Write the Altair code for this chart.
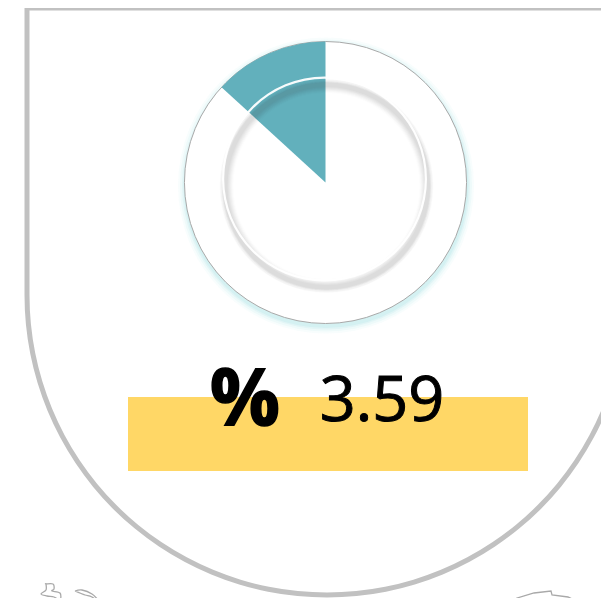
import math
import altair as alt
import pandas as pd

# page-pixel style coordinate system of the drawing
X_DOMAIN = [8, 601]
Y_DOMAIN = [8, 598]
W, H = 593, 590

FRAME_COLOR = "#c1c1c1"
LINE_GREY = "#a9a9a9"
WEDGE_COLOR = "#62b0bc"
BAR_COLOR = "#ffd766"

VALUE_TEXT = "3.59"
PCT_TEXT = "%"
SHARE = 0.132  # share of the dial that is filled

DIAL_X, DIAL_Y, DIAL_R = 325.5, 182.5, 141

frame_top_x = [25, 601]
frame_top_y = [8, 8]
frame_left_x = [27, 27]
frame_left_y = [8, 295]
frame_arc = dict(x=327, y=295, r=300)

bar_x = [128, 528]
bar_y = [397, 471]

star_x = [46, 53, 54, 52, 60, 60, 54, 47, 41, 46]
star_y = [584, 584, 589, 591, 593, 600, 597, 596, 594, 590]
crescent_x = [75, 82, 92, 100, 103, 92, 85, 75]
crescent_y = [591, 590, 594, 602, 606, 597, 595, 591]
big_arc_x = [503, 517, 534, 551, 552, 568, 587]
big_arc_y = [606, 598, 593, 591, 595, 597, 606]

sx = alt.Scale(domain=X_DOMAIN, range=[0, W])
sy = alt.Scale(domain=Y_DOMAIN, range=[0, H])


def xy(df):
    return dict(
        x=alt.X("x:Q", scale=sx, axis=None),
        y=alt.Y("y:Q", scale=sy, axis=None),
    )


def arc(cx, cy, r, r0=0.0, t0=0.0, t1=2 * math.pi, **kw):
    df = pd.DataFrame({"x": [cx], "y": [cy]})
    return alt.Chart(df).mark_arc(
        radius=r, radius2=r0, theta=t0, theta2=t1, clip=True, **kw
    ).encode(**xy(df))


def path(xs, ys, **kw):
    df = pd.DataFrame({"x": xs, "y": ys, "o": range(len(xs))})
    return alt.Chart(df).mark_line(clip=True, **kw).encode(
        order="o:Q", **xy(df)
    )


layers = []

# frame
layers.append(path(frame_top_x, frame_top_y, color=FRAME_COLOR, strokeWidth=5))
layers.append(path(frame_left_x, frame_left_y, color=FRAME_COLOR, strokeWidth=5))
layers.append(arc(frame_arc["x"], frame_arc["y"], frame_arc["r"] + 2.5,
                  frame_arc["r"] - 2.5, math.pi / 2, 3 * math.pi / 2,
                  color=FRAME_COLOR))

# cyan glow below the dial
for dr, op in [(7, 0.07), (5, 0.10), (3, 0.15), (1.5, 0.20)]:
    layers.append(arc(326, 185.5, DIAL_R + dr, color="#9fdfe6", opacity=op))

# dial disc
layers.append(arc(DIAL_X, DIAL_Y, DIAL_R, color="#ffffff",
                  stroke=LINE_GREY, strokeWidth=1))

# wedge
layers.append(arc(DIAL_X, DIAL_Y, DIAL_R, 0.0,
                  2 * math.pi * (1 - SHARE), 2 * math.pi, color=WEDGE_COLOR))

# inner soft grey ring
for r_out, r_in, op in [(107, 93, 0.012), (106.5, 94, 0.018), (106, 95, 0.022),
                        (105, 96, 0.028), (104.5, 97, 0.03), (104, 98, 0.03),
                        (103.5, 99, 0.03)]:
    layers.append(arc(326.5, 186, r_out, r_in, color="#303030", opacity=op))

# inner white highlight ring
layers.append(arc(324.5, 179, 102.5, 100.3, color="#ffffff", opacity=0.95))

# yellow bar
bar_df = pd.DataFrame({"x": [bar_x[0]], "x2": [bar_x[1]],
                       "y": [bar_y[0]], "y2": [bar_y[1]]})
layers.append(alt.Chart(bar_df).mark_rect(color=BAR_COLOR).encode(
    x=alt.X("x:Q", scale=sx, axis=None), x2="x2:Q",
    y=alt.Y("y:Q", scale=sy, axis=None), y2="y2:Q"))

# texts
pct_df = pd.DataFrame({"x": [245], "y": [425], "t": [PCT_TEXT]})
val_df = pd.DataFrame({"x": [382], "y": [421], "t": [VALUE_TEXT]})
layers.append(alt.Chart(pct_df).mark_text(
    font="Open Sans", fontWeight="bold", fontSize=78, color="#000000",
    stroke="#000000", strokeWidth=1.5,
    baseline="alphabetic", align="center").encode(text="t:N", **xy(pct_df)))
layers.append(alt.Chart(val_df).mark_text(
    font="Open Sans", fontSize=63, color="#000000", stroke="#000000",
    strokeWidth=1, baseline="alphabetic", align="center"
).encode(text="t:N", **xy(val_df)))

# clipped shapes along the bottom edge
layers.append(path(star_x + star_x[:1], star_y + star_y[:1], color=LINE_GREY,
                   strokeWidth=1.3, interpolate="cardinal-closed"))
layers.append(path(crescent_x, crescent_y, color=LINE_GREY, strokeWidth=1.3,
                   interpolate="cardinal"))
layers.append(path(big_arc_x, big_arc_y, color=LINE_GREY, strokeWidth=1.3))

chart = alt.layer(*layers).properties(
    width=W, height=H, padding=0, autosize=alt.AutoSizeParams(type="none"),
    background="#ffffff",
).configure_view(strokeWidth=0)

chart.save("out.html", embed_options={"renderer": "svg", "actions": False})
